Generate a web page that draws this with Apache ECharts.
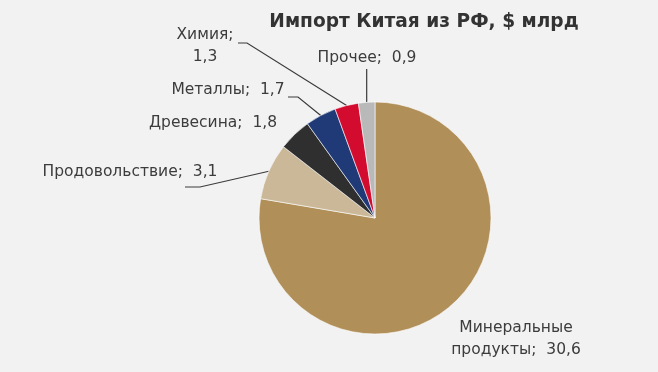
<!DOCTYPE html>
<html><head><meta charset="utf-8">
<script src="https://cdn.jsdelivr.net/npm/echarts@6/dist/echarts.min.js"></script>
<style>html,body{margin:0;padding:0;background:#f2f2f2;}#c{width:658px;height:372px;}</style>
</head><body><div id="c"></div>
<script>
var categories = ['Минеральные\nпродукты', 'Продовольствие', 'Древесина', 'Металлы', 'Химия;\n', 'Прочее'];
var labelNames = ['Минеральные\nпродукты;  ', 'Продовольствие;  ', 'Древесина;  ', 'Металлы;  ', 'Химия;\n', 'Прочее;  '];
var values = [30.6, 3.1, 1.8, 1.7, 1.3, 0.9];
var colors = ['#b08f59', '#cab898', '#2f2f2f', '#1f3a77', '#d30c2f', '#b9b9b9'];

function fmt(v){ return String(v).replace('.', ','); }

// label placement (text anchors and leader elbows), not data marks
var labelPos = [
  {x: 516, y: 339, align: 'center', line: null},
  {x: 130, y: 172, align: 'center', line: [[185, 187], [200, 187]]},
  {x: 213, y: 123, align: 'center', line: null},
  {x: 228, y: 90, align: 'center', line: [[288, 97], [298, 97]]},
  {x: 205, y: 46, align: 'center', line: [[238, 43], [247, 43]]},
  {x: 367, y: 58, align: 'center', line: 'vert'}
];

var chart = echarts.init(document.getElementById('c'));
chart.setOption({
  backgroundColor: '#f2f2f2',
  title: {
    text: 'Импорт Китая из РФ, $ млрд',
    left: 419, top: 8, textAlign: 'center',
    textStyle: {fontFamily: 'DejaVu Sans', fontWeight: 'bold', fontSize: 18.6, color: '#333333'}
  },
  series: [{
    type: 'pie',
    center: [375, 218],
    radius: 116,
    startAngle: 90,
    clockwise: true,
    animation: false,
    itemStyle: {borderColor: '#ffffff', borderWidth: 0.6},
    data: values.map(function(v, i){
      return {
        name: categories[i], value: v,
        itemStyle: {color: colors[i]},
        label: {formatter: labelNames[i] + fmt(v)},
        labelLine: {show: labelPos[i].line !== null}
      };
    }),
    label: {
      show: true, position: 'outside',
      fontFamily: 'DejaVu Sans', fontSize: 15.5, color: '#3c3c3c',
      lineHeight: 22, align: 'center'
    },
    labelLine: {lineStyle: {color: '#3a3a3a', width: 1.2}, length: 10, length2: 10},
    labelLayout: function(p){
      var lp = labelPos[p.dataIndex];
      var res = {x: lp.x, y: lp.y, align: lp.align, verticalAlign: 'middle'};
      if (lp.line && p.labelLinePoints) {
        var a = p.labelLinePoints[0];
        if (lp.line === 'vert') {
          res.labelLinePoints = [[a[0], a[1]], [a[0], a[1] - 1], [a[0], 69]];
        } else {
          res.labelLinePoints = [[a[0], a[1]], lp.line[1], lp.line[0]];
        }
      }
      return res;
    }
  }]
});
</script></body></html>
